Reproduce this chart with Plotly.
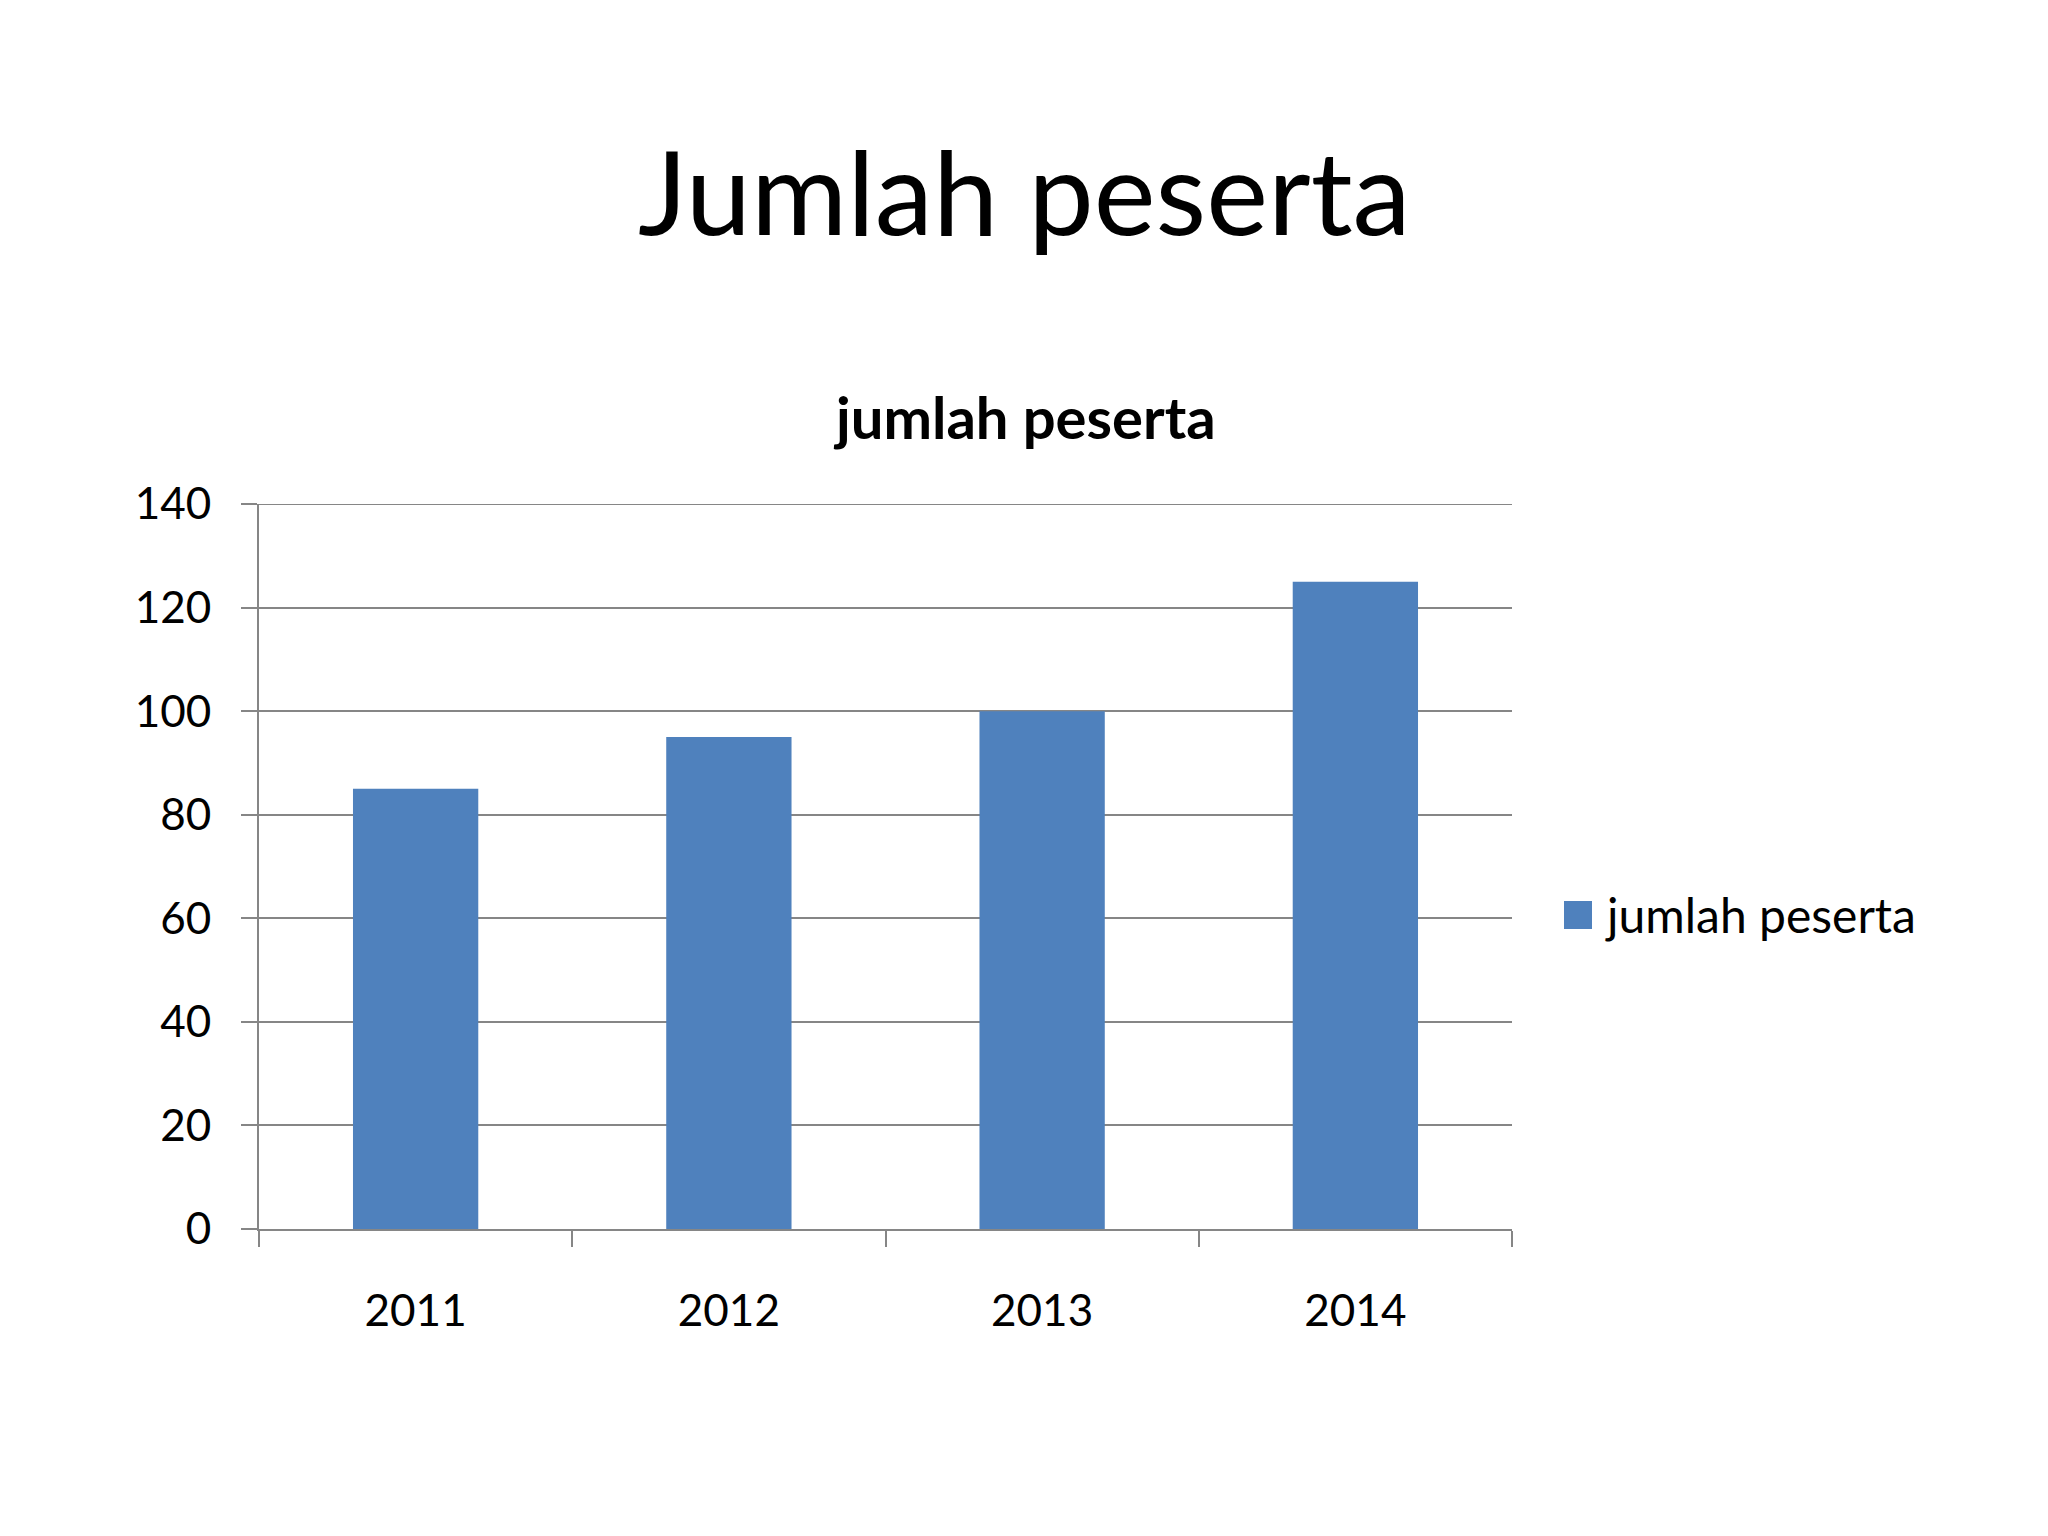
import plotly.graph_objects as go

years = ["2011", "2012", "2013", "2014"]
peserta = [85, 95, 100, 125]
y_ticks = [0, 20, 40, 60, 80, 100, 120, 140]
series_name = "jumlah peserta"
main_title = "Jumlah peserta"
chart_title = "jumlah peserta"

W, H = 2048, 1536
OFF = 8  # browser default body margin
FONT = "Lato, 'Open Sans', sans-serif"
GRID = "#868686"
BAR = "#4F81BD"

def px(x):
    return (x - OFF) / W

def py(y):
    return 1 - (y - OFF) / H

fig = go.Figure()
fig.add_trace(go.Bar(
    x=years, y=peserta, name=series_name,
    marker=dict(color=BAR, line=dict(width=0)),
    showlegend=False,
))

fig.update_layout(
    width=W, height=H,
    margin=dict(l=0, r=0, t=0, b=0, pad=0, autoexpand=False),
    paper_bgcolor="white", plot_bgcolor="white",
    bargap=0.6,
    showlegend=False,
    font=dict(family=FONT, color="black"),
    xaxis=dict(
        domain=[px(259), px(1512)],
        type="category",
        automargin=False,
        showgrid=False,
        showline=True, linecolor=GRID, linewidth=2,
        ticks="outside", ticklen=16, tickwidth=2, tickcolor=GRID,
        tickson="boundaries",
        tickfont=dict(size=44, family=FONT, color="black"),
        ticklabelstandoff=42,
    ),
    yaxis=dict(
        domain=[py(1229), py(504)],
        range=[y_ticks[0], y_ticks[-1]],
        tickvals=y_ticks,
        automargin=False,
        showgrid=True, gridcolor=GRID, gridwidth=2,
        zeroline=False,
        showline=True, linecolor=GRID, linewidth=2,
        ticks="outside", ticklen=16, tickwidth=2, tickcolor=GRID,
        tickfont=dict(size=44, family=FONT, color="black"),
        ticklabelstandoff=21,
    ),
    annotations=[
        dict(text=main_title, x=px(1024), y=py(190), xref="paper", yref="paper",
             xanchor="center", yanchor="middle", showarrow=False,
             font=dict(size=117, family=FONT, color="black")),
        dict(text="<b>" + chart_title + "</b>", x=px(1024), y=py(416), xref="paper", yref="paper",
             xanchor="center", yanchor="middle", showarrow=False,
             font=dict(size=58, family=FONT, color="black")),
        dict(text=series_name, x=px(1603), y=py(914), xref="paper", yref="paper",
             xanchor="left", yanchor="middle", showarrow=False,
             font=dict(size=48, family=FONT, color="black")),
    ],
    shapes=[
        # top gridline (Plotly hides gridlines on the plot edge)
        dict(type="line", xref="x domain", yref="y",
             x0=0, x1=1, y0=y_ticks[-1], y1=y_ticks[-1],
             line=dict(color=GRID, width=2), layer="below"),
        dict(type="rect", xref="paper", yref="paper",
             x0=px(1564), x1=px(1592), y0=py(929), y1=py(901),
             fillcolor=BAR, line=dict(width=0)),
    ],
)

fig.write_html("out.html")
